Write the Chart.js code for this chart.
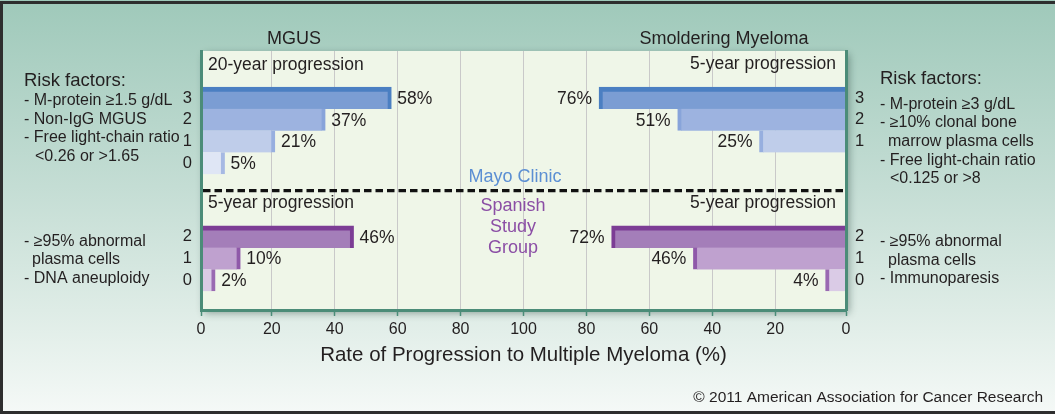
<!doctype html>
<html lang="en">
<head>
<meta charset="utf-8">
<title>Rate of Progression to Multiple Myeloma</title>
<script src="https://cdn.jsdelivr.net/npm/chart.js@4.4.0/dist/chart.umd.min.js"></script>
<style>
  html, body { margin: 0; padding: 0; background: #fff; }
  #chart { display: block; }
</style>
</head>
<body>
<canvas id="chart" width="1055" height="414"></canvas>
<script>
    // risk-factor count and progression rate (%) per row, top row first
    const mgusMayoRisk = ['3', '2', '1', '0'];
    const mgusMayoRate = [58, 37, 21, 5];
    const smmMayoRisk = ['3', '2', '1'];
    const smmMayoRate = [76, 51, 25];
    const mgusSpanishRisk = ['2', '1', '0'];
    const mgusSpanishRate = [46, 10, 2];
    const smmSpanishRisk = ['2', '1', '0'];
    const smmSpanishRate = [72, 46, 4];
    const xTickLabels = ['0', '20', '40', '60', '80', '100', '80', '60', '40', '20', '0'];

    // layout: rows on a hidden linear y scale, right half mirrored (200 - v)
    const X_MIN = -2.5, X_MAX = 202.5;
    const Y_MIN = -2.17, Y_MAX = 9.77;
    const SPANISH_START = 6.4;
    const SEPARATOR = 4.27;
    const mayoRow = i => i;
    const spanishRow = i => SPANISH_START + i;
    const mirror = v => 200 - v;

    const FONT = '"Liberation Sans", Arial, Helvetica, sans-serif';
    const INK = '#231f20';
    const TEAL = '#4b8c78';

    const mayoFace = ['#7b9dd3', '#9db3e0', '#bfcdea', '#dfe6f5'];
    const mayoEdge = ['#4b7fc2', '#88a4da', '#97afdf', '#a6b9e3'];
    const spanFace = ['#a47eb9', '#bfa1cf', '#dacbe6'];
    const spanEdge = ['#7c3d95', '#8f59a9', '#9a6ab2'];

    const xTickValues = xTickLabels.map(function (l, i) {
        if (i === 0) return X_MIN;
        if (i === xTickLabels.length - 1) return X_MAX;
        return i <= 5 ? +l : mirror(+l);
    });

    const leftTicks = mgusMayoRisk.map((l, i) => ({value: mayoRow(i), label: l}))
        .concat(mgusSpanishRisk.map((l, i) => ({value: spanishRow(i), label: l})));
    const rightTicks = smmMayoRisk.map((l, i) => ({value: mayoRow(i), label: l}))
        .concat(smmSpanishRisk.map((l, i) => ({value: spanishRow(i), label: l})));

    function leftSet(rates, row, face, edge) {
        return {
            side: 'left',
            rates: rates,
            data: rates.map((v, i) => ({x: v, y: row(i)})),
            base: X_MIN,
            backgroundColor: face,
            borderColor: edge,
            borderWidth: ctx => ({top: ctx.dataIndex === 0 ? 5 : 0, right: 4, bottom: 0, left: 0}),
            borderSkipped: false
        };
    }

    function rightSet(rates, row, face, edge) {
        return {
            side: 'right',
            rates: rates,
            data: rates.map((v, i) => ({x: [mirror(v), X_MAX], y: row(i)})),
            backgroundColor: face,
            borderColor: edge,
            borderWidth: ctx => ({top: ctx.dataIndex === 0 ? 5 : 0, left: 4, bottom: 0, right: 0}),
            borderSkipped: false
        };
    }

    function txt(ctx, s, x, y, size, align, color) {
        ctx.font = size + 'px ' + FONT;
        ctx.textAlign = align || 'left';
        ctx.textBaseline = 'middle';
        ctx.fillStyle = color || INK;
        ctx.fillText(s, x, y);
    }

    const decor = {
        id: 'decor',
        beforeDraw(chart) {
            const {ctx, chartArea: a, width, height} = chart;
            ctx.save();
            const g = ctx.createLinearGradient(0, 0, 0, height);
            g.addColorStop(0, '#9fc9ba');
            g.addColorStop(0.45, '#c4ddd4');
            g.addColorStop(0.75, '#deece6');
            g.addColorStop(1, '#f5f9f7');
            ctx.fillStyle = g;
            ctx.fillRect(0, 0, width, height);

            // frame
            ctx.fillStyle = '#2e2e2e';
            ctx.fillRect(0, 1, width, 3);
            ctx.fillRect(0, 1, 3, height);
            ctx.fillRect(0, height - 3, width, 3);

            // plot box with drop shadow
            ctx.shadowColor = 'rgba(30, 60, 50, 0.45)';
            ctx.shadowBlur = 8;
            ctx.shadowOffsetX = 3;
            ctx.shadowOffsetY = 3;
            ctx.fillStyle = '#eff6e8';
            ctx.fillRect(a.left, a.top, a.right - a.left, a.bottom - a.top);
            ctx.restore();
        },
        beforeDatasetsDraw(chart) {
            const {ctx, chartArea: a} = chart;
            const y = chart.scales.y.getPixelForValue(SEPARATOR);
            ctx.save();
            ctx.strokeStyle = '#111';
            ctx.lineWidth = 3.3;
            ctx.setLineDash([7.5, 4]);
            ctx.beginPath();
            ctx.moveTo(a.left + 2, y);
            ctx.lineTo(a.right - 2, y);
            ctx.stroke();
            ctx.setLineDash([]);

            txt(ctx, '20-year progression', a.left + 7, 65, 17.5);
            txt(ctx, '5-year progression', a.right - 10, 64, 17.5, 'right');
            txt(ctx, '5-year progression', a.left + 7, 203, 17.5);
            txt(ctx, '5-year progression', a.right - 10, 203, 17.5, 'right');

            txt(ctx, 'Mayo Clinic', 515, 177, 18, 'center', '#5b8fd3');
            ['Spanish', 'Study', 'Group'].forEach(function (s, i) {
                txt(ctx, s, 513, 206 + i * 21, 18, 'center', '#8b4ea5');
            });
            ctx.restore();
        },
        afterDatasetsDraw(chart) {
            const {ctx} = chart;
            ctx.save();
            chart.data.datasets.forEach(function (ds, di) {
                chart.getDatasetMeta(di).data.forEach(function (el, i) {
                    const label = ds.rates[i] + '%';
                    if (ds.side === 'left') {
                        txt(ctx, label, Math.max(el.x, el.base) + 6, el.y + 1, 17.5, 'left');
                    } else {
                        txt(ctx, label, Math.min(el.x, el.base) - 7, el.y + 1, 17.5, 'right');
                    }
                });
            });
            ctx.restore();
        },
        afterDraw(chart) {
            const {ctx} = chart;
            ctx.save();
            txt(ctx, 'MGUS', 294, 39, 18, 'center');
            txt(ctx, 'Smoldering Myeloma', 724, 39, 18, 'center');

            // MGUS risk factors
            txt(ctx, 'Risk factors:', 24, 81, 18.5);
            txt(ctx, '- M-protein \u22651.5 g/dL', 24, 101, 16);
            txt(ctx, '- Non-IgG MGUS', 24, 119.5, 16);
            txt(ctx, '- Free light-chain ratio', 24, 138, 16);
            txt(ctx, '<0.26 or >1.65', 35, 157, 16);
            txt(ctx, '- \u226595% abnormal', 24, 242, 16);
            txt(ctx, 'plasma cells', 32, 260, 16);
            txt(ctx, '- DNA aneuploidy', 24, 278.5, 16);

            // smoldering myeloma risk factors
            txt(ctx, 'Risk factors:', 880, 79, 18.5);
            txt(ctx, '- M-protein \u22653 g/dL', 880, 104.5, 16);
            txt(ctx, '- \u226510% clonal bone', 880, 123, 16);
            txt(ctx, 'marrow plasma cells', 888, 142, 16);
            txt(ctx, '- Free light-chain ratio', 880, 160.5, 16);
            txt(ctx, '<0.125 or >8', 890, 179, 16);
            txt(ctx, '- \u226595% abnormal', 880, 242, 16);
            txt(ctx, 'plasma cells', 888, 261, 16);
            txt(ctx, '- Immunoparesis', 880, 279, 16);

            txt(ctx, '\u00a9 2011 American Association for Cancer Research', 1043, 398, 15.5, 'right');
            ctx.restore();
        }
    };

    Chart.defaults.font.family = FONT;
    Chart.defaults.color = INK;

    function rowAxis(position, ticksList, width) {
        return {
            type: 'linear',
            position: position,
            reverse: true,
            offset: false,
            min: Y_MIN,
            max: Y_MAX,
            afterBuildTicks: axis => { axis.ticks = ticksList.map(t => ({value: t.value})); },
            afterFit: axis => { axis.width = width; },
            grid: {display: false, drawTicks: false, offset: false},
            border: {display: true, color: TEAL, width: 3, z: 1},
            ticks: {padding: 9, font: {size: 16.5}, color: INK, callback: (v, i) => ticksList[i].label}
        };
    }

    new Chart(document.getElementById('chart'), {
        type: 'bar',
        data: {
            datasets: [
                leftSet(mgusMayoRate, mayoRow, mayoFace, mayoEdge),
                rightSet(smmMayoRate, mayoRow, mayoFace, mayoEdge),
                leftSet(mgusSpanishRate, spanishRow, spanFace, spanEdge),
                rightSet(smmSpanishRate, spanishRow, spanFace, spanEdge)
            ]
        },
        options: {
            indexAxis: 'y',
            responsive: false,
            animation: false,
            devicePixelRatio: 1,
            layout: {padding: {top: 51, left: 0, right: 0, bottom: 0}},
            datasets: {
                bar: {grouped: false, barThickness: 22}
            },
            plugins: {
                legend: {display: false},
                tooltip: {enabled: false}
            },
            scales: {
                x: {
                    type: 'linear',
                    min: X_MIN,
                    max: X_MAX,
                    offset: false,
                    afterBuildTicks: axis => { axis.ticks = xTickValues.map(v => ({value: v})); },
                    afterFit: axis => { axis.height = 104; },
                    grid: {color: '#c9c9c9', lineWidth: 1, tickColor: TEAL, tickLength: 6, tickWidth: 1.5},
                    border: {display: true, color: TEAL, width: 3, z: 1},
                    ticks: {
                        autoSkip: false,
                        maxRotation: 0,
                        padding: 4,
                        font: {size: 16},
                        color: INK,
                        callback: (v, i) => xTickLabels[i]
                    },
                    title: {
                        display: true,
                        text: 'Rate of Progression to Multiple Myeloma (%)',
                        font: {size: 20.5},
                        color: INK,
                        padding: {top: 0, bottom: 46}
                    }
                },
                y: rowAxis('left', leftTicks, 201),
                y2: rowAxis('right', rightTicks, 209)
            }
        },
        plugins: [decor]
    });
</script>
</body>
</html>
